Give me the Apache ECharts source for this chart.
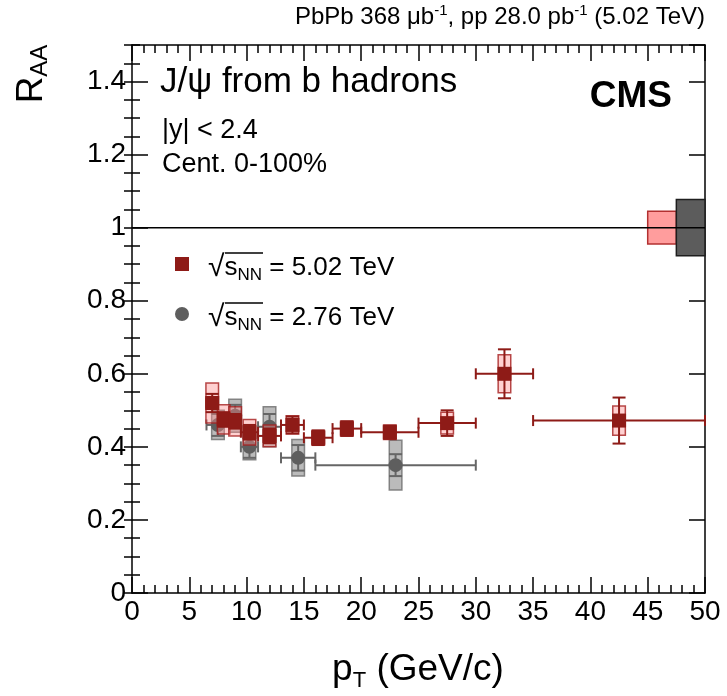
<!DOCTYPE html>
<html>
<head>
<meta charset="utf-8">
<script src="https://cdn.jsdelivr.net/npm/echarts@6/dist/echarts.min.js"></script>
<style>
  html, body { margin: 0; padding: 0; background: #fff; }
  #chart { width: 727px; height: 696px; }
</style>
</head>
<body>
<div id="chart"></div>
<script>
// 5.02 TeV (PbPb 2015) nonprompt J/psi RAA
const redPt   = [7.0, 8.0, 9.0, 10.25, 12, 14, 16.25, 18.75, 22.5, 27.5, 32.5, 42.5];
const redLo   = [6.5, 7.5, 8.5, 9.5, 11, 13, 15, 17.5, 20, 25, 30, 35];
const redHi   = [7.5, 8.5, 9.5, 11, 13, 15, 17.5, 20, 25, 30, 35, 50];
const redRaa  = [0.52, 0.475, 0.47, 0.44, 0.43, 0.46, 0.425, 0.45, 0.44, 0.465, 0.60, 0.472];
const redStat = [0.025, 0.02, 0.02, 0.02, 0.02, 0.023, 0.02, 0.02, 0.018, 0.035, 0.067, 0.063];
const redSyst = [0.055, 0.04, 0.04, 0.035, 0.03, 0.025, 0.02, 0.02, 0.02, 0.03, 0.052, 0.04];

// 2.76 TeV (PbPb 2011) nonprompt J/psi RAA
const grayPt   = [7.5, 9.0, 10.25, 12, 14.5, 23];
const grayLo   = [6.5, 8.5, 9.5, 11, 13, 16];
const grayHi   = [8.5, 9.5, 11, 13, 16, 30];
const grayRaa  = [0.46, 0.485, 0.40, 0.455, 0.37, 0.35];
const grayStat = [0.03, 0.03, 0.03, 0.035, 0.035, 0.03];
const graySyst = [0.04, 0.045, 0.035, 0.055, 0.05, 0.068];

// global uncertainties drawn at RAA = 1
const globalLo  = [45, 47.5];
const globalHi  = [47.5, 50];
const globalUnc = [0.045, 0.077];

const xTicks = [0, 5, 10, 15, 20, 25, 30, 35, 40, 45, 50];
const yTicks = [0, 0.2, 0.4, 0.6, 0.8, 1, 1.2, 1.4];

const FONT = "'Liberation Sans', Arial, Helvetica, sans-serif";
const RED = "#8e1b17";
const GRAY = "#5e5e5e";
const BOX_HALF = 0.55;

const chart = echarts.init(document.getElementById("chart"));

function systBoxes(pts, vals, syst, fill, stroke, z) {
  return {
    type: "custom",
    z: z,
    silent: true,
    data: pts.map((p, i) => [p, vals[i], syst[i]]),
    renderItem: (params, api) => {
      const x = api.value(0), y = api.value(1), s = api.value(2);
      const a = api.coord([x - BOX_HALF, y + s]);
      const b = api.coord([x + BOX_HALF, y - s]);
      return {
        type: "rect",
        shape: { x: a[0], y: a[1], width: b[0] - a[0], height: b[1] - a[1] },
        style: { fill: fill, stroke: stroke, lineWidth: 1.5 },
      };
    },
  };
}

function errorBars(pts, lo, hi, vals, stat, color, z) {
  return {
    type: "custom",
    z: z,
    silent: true,
    data: pts.map((p, i) => [p, lo[i], hi[i], vals[i], stat[i]]),
    renderItem: (params, api) => {
      const x = api.value(0), l = api.value(1), h = api.value(2);
      const y = api.value(3), e = api.value(4);
      const c = api.coord([x, y]);
      const top = api.coord([x, y + e]);
      const bot = api.coord([x, y - e]);
      const left = api.coord([l, y]);
      const right = api.coord([h, y]);
      const st = { stroke: color, lineWidth: 2 };
      const line = (x1, y1, x2, y2) => ({ type: "line", shape: { x1, y1, x2, y2 }, style: st });
      return {
        type: "group",
        children: [
          line(left[0], c[1], right[0], c[1]),
          line(left[0], c[1] - 5.5, left[0], c[1] + 5.5),
          line(right[0], c[1] - 5.5, right[0], c[1] + 5.5),
          line(c[0], top[1], c[0], bot[1]),
          line(c[0] - 6.5, top[1], c[0] + 6.5, top[1]),
          line(c[0] - 6.5, bot[1], c[0] + 6.5, bot[1]),
        ],
      };
    },
  };
}

const globalBoxes = {
  type: "custom",
  z: 2,
  silent: true,
  data: globalLo.map((l, i) => [l, globalHi[i], globalUnc[i], i]),
  renderItem: (params, api) => {
    const a = api.coord([api.value(0), 1 + api.value(2)]);
    const b = api.coord([api.value(1), 1 - api.value(2)]);
    const isRed = api.value(3) === 0;
    return {
      type: "rect",
      shape: { x: a[0], y: a[1], width: b[0] - a[0], height: b[1] - a[1] },
      style: {
        fill: isRed ? "#ff9d9d" : "#5c5c5c",
        stroke: isRed ? "#b23030" : "#1e1e1e",
        lineWidth: 1.5,
      },
    };
  },
};

const tickLine = { color: "#000", width: 1.5 };

const baseX = {
  type: "value",
  min: 0,
  max: 50,
  interval: 5,
  axisLine: { show: true, onZero: false, lineStyle: tickLine },
  axisTick: { show: true, inside: true, length: 16, lineStyle: tickLine },
  minorTick: { show: true, splitNumber: 5, length: 8, lineStyle: tickLine },
  splitLine: { show: false },
};

const yMajor = {
  type: "value",
  min: 0,
  max: 1.5,
  interval: 0.2,
  axisLine: { show: true, onZero: false, lineStyle: tickLine },
  axisTick: { show: true, inside: true, length: 16, lineStyle: tickLine },
  splitLine: { show: false },
};

const yMinor = {
  type: "value",
  min: 0,
  max: 1.5,
  interval: 0.05,
  axisLine: { show: false },
  axisTick: { show: true, inside: true, length: 8, lineStyle: tickLine },
  axisLabel: { show: false },
  splitLine: { show: false },
};

const option = {
  animation: false,
  backgroundColor: "#fff",
  grid: { left: 132, right: 22, top: 45, bottom: 103, containLabel: false },
  xAxis: [
    Object.assign({}, baseX, {
      position: "bottom",
      axisLabel: {
        margin: 5,
        fontFamily: FONT,
        fontSize: 28,
        color: "#000",
        formatter: (v) => (xTicks.includes(v) ? String(v) : ""),
      },
    }),
    Object.assign({}, baseX, { position: "top", axisLabel: { show: false } }),
  ],
  yAxis: [
    Object.assign({}, yMajor, {
      position: "left",
      axisLabel: {
        margin: 6,
        fontFamily: FONT,
        fontSize: 28,
        color: "#000",
        showMaxLabel: false,
        formatter: (v) => {
          const r = Math.round(v * 10) / 10;
          return yTicks.includes(r) ? String(r) : "";
        },
      },
    }),
    Object.assign({}, yMajor, { position: "right", axisLabel: { show: false } }),
    Object.assign({}, yMinor, { position: "left" }),
    Object.assign({}, yMinor, { position: "right" }),
  ],
  series: [
    globalBoxes,
    {
      type: "line",
      z: 3,
      silent: true,
      symbol: "none",
      data: [[0, 1], [50, 1]],
      lineStyle: { color: "#000", width: 1.5 },
    },
    systBoxes(grayPt, grayRaa, graySyst, "rgba(150,150,150,0.65)", "rgba(115,115,115,0.85)", 4),
    errorBars(grayPt, grayLo, grayHi, grayRaa, grayStat, "#666", 5),
    {
      type: "scatter",
      z: 6,
      silent: true,
      symbol: "circle",
      symbolSize: 14,
      itemStyle: { color: GRAY, opacity: 1 },
      data: grayPt.map((p, i) => [p, grayRaa[i]]),
    },
    systBoxes(redPt, redRaa, redSyst, "rgba(255,140,140,0.4)", "rgba(165,30,30,0.8)", 7),
    errorBars(redPt, redLo, redHi, redRaa, redStat, RED, 8),
    {
      type: "scatter",
      z: 9,
      silent: true,
      symbol: "rect",
      symbolSize: 14,
      itemStyle: { color: RED, opacity: 1 },
      data: redPt.map((p, i) => [p, redRaa[i]]),
    },
  ],
  graphic: [
    {
      type: "text",
      right: 22,
      top: 3,
      style: {
        text: "{n|PbPb 368 μb}{sup|-1}{n|, pp 28.0 pb}{sup|-1}{n| (5.02 TeV)}",
        rich: {
          n: { fontFamily: FONT, fontSize: 24, lineHeight: 28, fill: "#000" },
          sup: { fontFamily: FONT, fontSize: 15, lineHeight: 15, verticalAlign: "top", fill: "#000" },
        },
      },
    },
    {
      type: "text",
      x: 32,
      y: 74,
      rotation: Math.PI / 2,
      style: {
        text: "{r|R}{s|AA}",
        align: "center",
        verticalAlign: "middle",
        rich: {
          r: { fontFamily: FONT, fontSize: 37, lineHeight: 40, fill: "#000" },
          s: { fontFamily: FONT, fontSize: 24, lineHeight: 22, verticalAlign: "bottom", fill: "#000" },
        },
      },
    },
    {
      type: "text",
      x: 418,
      y: 670,
      style: {
        text: "{p|p}{s|T}{p| (GeV/c)}",
        align: "center",
        verticalAlign: "middle",
        rich: {
          p: { fontFamily: FONT, fontSize: 37, lineHeight: 44, fill: "#000" },
          s: { fontFamily: FONT, fontSize: 22, lineHeight: 14, verticalAlign: "bottom", fill: "#000" },
        },
      },
    },
    {
      type: "text",
      x: 160,
      y: 82,
      style: { text: "J/ψ from b hadrons", font: "35px " + FONT, fill: "#000", verticalAlign: "middle" },
    },
    {
      type: "text",
      x: 162,
      y: 131,
      style: { text: "|y| < 2.4", font: "27px " + FONT, fill: "#000", verticalAlign: "middle" },
    },
    {
      type: "text",
      x: 162,
      y: 165,
      style: { text: "Cent. 0-100%", font: "27px " + FONT, fill: "#000", verticalAlign: "middle" },
    },
    {
      type: "text",
      x: 672,
      y: 97,
      style: { text: "CMS", font: "bold 37px " + FONT, fill: "#000", align: "right", verticalAlign: "middle" },
    },
    // legend
    { type: "rect", shape: { x: 175, y: 257, width: 14, height: 14 }, style: { fill: RED } },
    { type: "circle", shape: { cx: 182, cy: 314, r: 7 }, style: { fill: GRAY } },
    {
      type: "text",
      x: 208,
      y: 268,
      style: {
        text: "{r|√}{s|s}{sub|NN}{n| = 5.02 TeV}",
        verticalAlign: "middle",
        rich: {
          r: { fontFamily: FONT, fontSize: 30, lineHeight: 32, fill: "#000" },
          s: { fontFamily: FONT, fontSize: 26, lineHeight: 32, fill: "#000" },
          sub: { fontFamily: FONT, fontSize: 17, lineHeight: 22, verticalAlign: "bottom", fill: "#000" },
          n: { fontFamily: FONT, fontSize: 26, lineHeight: 32, fill: "#000" },
        },
      },
    },
    { type: "line", shape: { x1: 225, y1: 253, x2: 263, y2: 253 }, style: { stroke: "#000", lineWidth: 1.5 } },
    {
      type: "text",
      x: 208,
      y: 318,
      style: {
        text: "{r|√}{s|s}{sub|NN}{n| = 2.76 TeV}",
        verticalAlign: "middle",
        rich: {
          r: { fontFamily: FONT, fontSize: 30, lineHeight: 32, fill: "#000" },
          s: { fontFamily: FONT, fontSize: 26, lineHeight: 32, fill: "#000" },
          sub: { fontFamily: FONT, fontSize: 17, lineHeight: 22, verticalAlign: "bottom", fill: "#000" },
          n: { fontFamily: FONT, fontSize: 26, lineHeight: 32, fill: "#000" },
        },
      },
    },
    { type: "line", shape: { x1: 225, y1: 303, x2: 263, y2: 303 }, style: { stroke: "#000", lineWidth: 1.5 } },
  ],
};

chart.setOption(option);
window.addEventListener("resize", () => chart.resize());
</script>
</body>
</html>
